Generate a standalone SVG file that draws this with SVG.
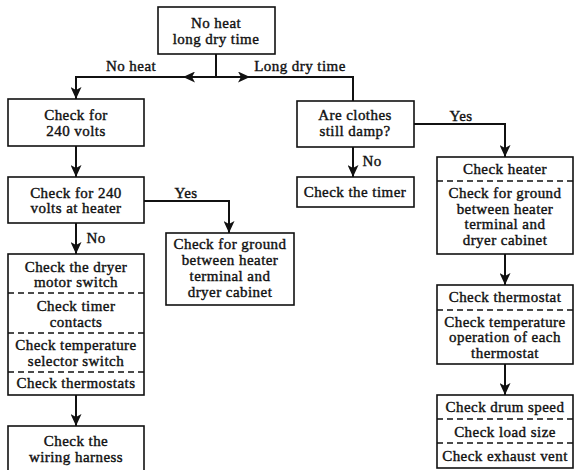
<svg xmlns="http://www.w3.org/2000/svg" width="580" height="470" viewBox="0 0 580 470">
<style>
.bx{fill:#fff;stroke:#111;stroke-width:1.6}
.dl{stroke:#111;stroke-width:1.3;stroke-dasharray:6,4;fill:none}
.ln{stroke:#111;stroke-width:2;fill:none}
text{font-family:"Liberation Serif","DejaVu Serif",serif;font-size:15px;letter-spacing:0.45px;fill:#111;stroke:#111;stroke-width:0.4;text-anchor:middle}
</style>
<defs>
<marker id="ah" viewBox="0 0 12 11" refX="12" refY="5.5" markerWidth="12" markerHeight="11" markerUnits="userSpaceOnUse" orient="auto">
<path d="M0,0 L12,5.5 L0,11 L3,5.5 z" fill="#111"/>
</marker>
</defs>
<rect width="580" height="470" fill="#fff"/>
<g id="connectors">
<line class="ln" x1="216" y1="54" x2="216" y2="77"/>
<line class="ln" x1="216" y1="77" x2="183" y2="77" marker-end="url(#ah)"/>
<polyline class="ln" points="183,77 76,77 76,99" marker-end="url(#ah)"/>
<line class="ln" x1="216" y1="77" x2="250" y2="77" marker-end="url(#ah)"/>
<polyline class="ln" points="250,77 353,77 353,101"/>
<line class="ln" x1="76" y1="146" x2="76" y2="177" marker-end="url(#ah)"/>
<polyline class="ln" points="144,201 229,201 229,233" marker-end="url(#ah)"/>
<line class="ln" x1="76" y1="223" x2="76" y2="254" marker-end="url(#ah)"/>
<line class="ln" x1="76" y1="395" x2="76" y2="426" marker-end="url(#ah)"/>
<polyline class="ln" points="414,124 505,124 505,157" marker-end="url(#ah)"/>
<line class="ln" x1="353" y1="147" x2="353" y2="177" marker-end="url(#ah)"/>
<line class="ln" x1="505" y1="254" x2="505" y2="285" marker-end="url(#ah)"/>
<line class="ln" x1="505" y1="364" x2="505" y2="395" marker-end="url(#ah)"/>
<text x="131" y="71">No heat</text>
<text x="300" y="71">Long dry time</text>
<text x="186" y="198">Yes</text>
<text x="96" y="243">No</text>
<text x="461" y="121">Yes</text>
<text x="372" y="166">No</text>
</g>
<g id="start">
<rect class="bx" x="158" y="7" width="117" height="47"/>
<text x="216" y="28">No heat</text>
<text x="216" y="44">long dry time</text>
</g>
<g id="check240">
<rect class="bx" x="8" y="99" width="136" height="47"/>
<text x="76" y="120">Check for</text>
<text x="76" y="136">240 volts</text>
</g>
<g id="check240heater">
<rect class="bx" x="8" y="177" width="136" height="46"/>
<text x="76" y="198">Check for 240</text>
<text x="76" y="213">volts at heater</text>
</g>
<g id="groundLeft">
<rect class="bx" x="166" y="233" width="128" height="72"/>
<text x="230" y="249">Check for ground</text>
<text x="230" y="265">between heater</text>
<text x="230" y="281">terminal and</text>
<text x="230" y="297">dryer cabinet</text>
</g>
<g id="leftStack">
<rect class="bx" x="8" y="254" width="136" height="141"/>
<line class="dl" x1="8" y1="293" x2="144" y2="293"/>
<line class="dl" x1="8" y1="333" x2="144" y2="333"/>
<line class="dl" x1="8" y1="372" x2="144" y2="372"/>
<text x="76" y="272">Check the dryer</text>
<text x="76" y="287">motor switch</text>
<text x="76" y="311">Check timer</text>
<text x="76" y="327">contacts</text>
<text x="76" y="350">Check temperature</text>
<text x="76" y="366">selector switch</text>
<text x="76" y="388">Check thermostats</text>
</g>
<g id="wiring">
<rect class="bx" x="8" y="426" width="136" height="50"/>
<text x="76" y="446">Check the</text>
<text x="76" y="462">wiring harness</text>
</g>
<g id="damp">
<rect class="bx" x="297" y="101" width="117" height="46"/>
<text x="355" y="120">Are clothes</text>
<text x="355" y="136">still damp?</text>
</g>
<g id="timer">
<rect class="bx" x="297" y="177" width="117" height="30"/>
<text x="355" y="197">Check the timer</text>
</g>
<g id="heaterStack">
<rect class="bx" x="437" y="157" width="136" height="97"/>
<line class="dl" x1="437" y1="181" x2="573" y2="181"/>
<text x="505" y="174">Check heater</text>
<text x="505" y="198">Check for ground</text>
<text x="505" y="214">between heater</text>
<text x="505" y="229">terminal and</text>
<text x="505" y="245">dryer cabinet</text>
</g>
<g id="thermoStack">
<rect class="bx" x="437" y="285" width="136" height="79"/>
<line class="dl" x1="437" y1="310" x2="573" y2="310"/>
<text x="505" y="302">Check thermostat</text>
<text x="505" y="327">Check temperature</text>
<text x="505" y="342">operation of each</text>
<text x="505" y="358">thermostat</text>
</g>
<g id="drumStack">
<rect class="bx" x="437" y="395" width="136" height="73"/>
<line class="dl" x1="437" y1="419" x2="573" y2="419"/>
<line class="dl" x1="437" y1="443" x2="573" y2="443"/>
<text x="505" y="412">Check drum speed</text>
<text x="505" y="437">Check load size</text>
<text x="505" y="461">Check exhaust vent</text>
</g>
</svg>
